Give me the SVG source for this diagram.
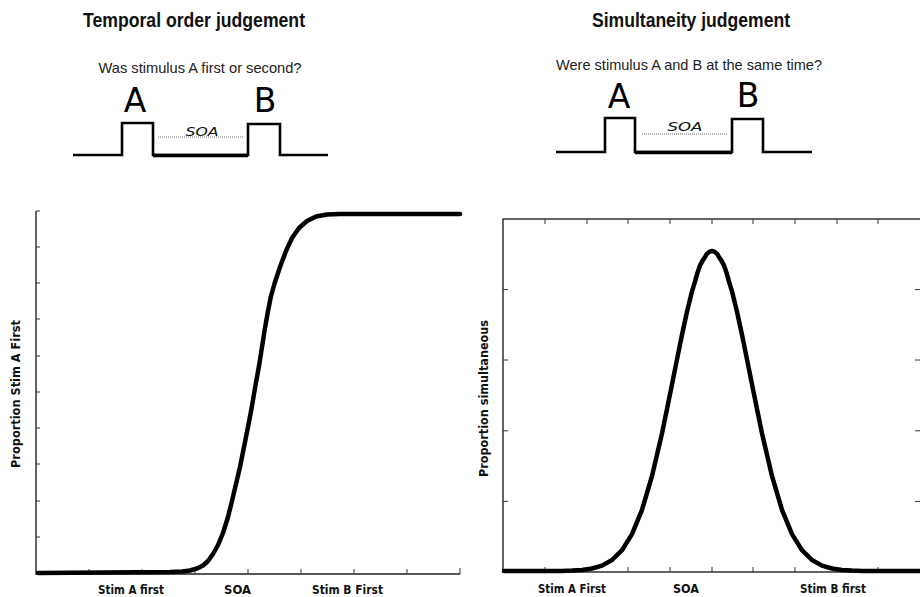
<svg xmlns="http://www.w3.org/2000/svg" width="920" height="597" viewBox="0 0 920 597">
<style>
.title{font-family:"Liberation Sans Narrow","Liberation Sans",Arial,sans-serif;font-weight:bold;font-size:20px;fill:#111}
.q{font-family:"Liberation Sans Narrow","Liberation Sans",Arial,sans-serif;font-size:15px;fill:#222}
.big{font-family:"DejaVu Sans",Verdana,sans-serif;font-size:33px;fill:#000}
.soa{font-family:"DejaVu Sans",Verdana,sans-serif;font-style:italic;font-size:13px;fill:#111}
.ax{font-family:"DejaVu Sans",Verdana,sans-serif;font-weight:bold;font-size:12px;fill:#111}
.pulse{fill:none;stroke:#000;stroke-width:2.6;stroke-linejoin:miter}
.mid{fill:none;stroke:#000;stroke-width:3.6}
.dots{fill:none;stroke:#666;stroke-width:1;stroke-dasharray:1 1}
.axis{fill:none;stroke:#222;stroke-width:1.4}
.tick{fill:none;stroke:#333;stroke-width:1}
.curve{fill:none;stroke:#000;stroke-width:4.5;stroke-linejoin:round;stroke-linecap:round}
</style>

<g id="toj-header">
<text class="title" x="194" y="27" text-anchor="middle" textLength="222" lengthAdjust="spacingAndGlyphs">Temporal order judgement</text>
<text class="q" x="200" y="73" text-anchor="middle" textLength="203" lengthAdjust="spacingAndGlyphs">Was stimulus A first or second?</text>
<text class="big" x="135" y="112" text-anchor="middle">A</text>
<text class="big" x="265" y="112" text-anchor="middle">B</text>
<path class="pulse" d="M73,155 H122 V123 H153 V155 H248 V124 H280 V155 H328"/>
<path class="mid" d="M153,155.5 H248"/>
<path class="dots" d="M158,137 H243"/>
<text class="soa" x="202" y="136" text-anchor="middle" textLength="33" lengthAdjust="spacingAndGlyphs">SOA</text>
</g>

<g id="sj-header">
<text class="title" x="691" y="27" text-anchor="middle" textLength="198" lengthAdjust="spacingAndGlyphs">Simultaneity judgement</text>
<text class="q" x="689" y="70" text-anchor="middle" textLength="266" lengthAdjust="spacingAndGlyphs">Were stimulus A and B at the same time?</text>
<text class="big" x="619" y="108" text-anchor="middle">A</text>
<text class="big" x="748" y="107" text-anchor="middle">B</text>
<path class="pulse" d="M556,152 H605 V118 H635 V152 H732 V119 H763 V152 H812"/>
<path class="mid" d="M635,152.5 H732"/>
<path class="dots" d="M642,134 H727"/>
<text class="soa" x="685" y="131" text-anchor="middle" textLength="35" lengthAdjust="spacingAndGlyphs">SOA</text>
</g>

<g id="toj-plot">
<path class="axis" d="M36,211 V574 H460"/>
<path class="tick" d="M36,211 h4 M36,247 h4 M36,283 h4 M36,319 h4 M36,356 h4 M36,392 h4 M36,428 h4 M36,464 h4 M36,501 h4 M36,537 h4"/>
<path class="tick" d="M89,574 v-5 M142,574 v-5 M195,574 v-5 M248,574 v-5 M301,574 v-5 M354,574 v-5 M407,574 v-5 M460,574 v-6"/>
<path class="curve" d="M38,573 L170,572 L182,571.5 L190,570.5 L197,568.5 L203,565.5 L208,561 L213,554 L218,545 L223,533 L228,517 L232,501 L236,484 L240,467 L244,447 L248,427 L252,406 L255,388 L259,366 L262,347 L265,328 L268,311 L271,296 L275,282 L280,267 L286,251 L292,238 L299,228 L307,221 L316,216.5 L327,214.5 L340,214 L460,214"/>
<text class="ax" transform="translate(20,394) rotate(-90)" text-anchor="middle" textLength="148" lengthAdjust="spacingAndGlyphs">Proportion Stim A First</text>
<text class="ax" x="131" y="594" text-anchor="middle" textLength="66" lengthAdjust="spacingAndGlyphs">Stim A first</text>
<text class="ax" x="237.5" y="594" text-anchor="middle" textLength="27" lengthAdjust="spacingAndGlyphs">SOA</text>
<text class="ax" x="347.5" y="594" text-anchor="middle" textLength="71" lengthAdjust="spacingAndGlyphs">Stim B First</text>
</g>

<g id="sj-plot">
<rect class="axis" x="503" y="219" width="420" height="353"/>
<path class="tick" d="M545,219 v5 M587,219 v5 M628,219 v5 M670,219 v5 M712,219 v5 M753,219 v5 M795,219 v5 M837,219 v5 M878,219 v5"/>
<path class="tick" d="M545,572 v-5 M587,572 v-5 M628,572 v-5 M670,572 v-5 M712,572 v-5 M753,572 v-5 M795,572 v-5 M837,572 v-5 M878,572 v-5"/>
<path class="tick" d="M503,289.6 h5 M503,360 h5 M503,430.8 h5 M503,501.4 h5"/>
<path class="tick" d="M920,289.6 h-5 M920,360 h-5 M920,430.8 h-5 M920,501.4 h-5"/>
<path class="curve" d="M504,571 L562,571 L572,570.6 L582,569.9 L592,568.5 L602,565.6 L612,560 L622,550.2 L632,534.1 L642,509.8 L652,476 L662,433.4 L667,409 L672,384.4 L677,359.4 L682,334.8 L687,311.8 L692,291.3 L695,281.7 L697,274.4 L699,268.2 L700,265.5 L702,261.6 L705,257 L707,253.7 L709,252 L711,251.2 L712,251 L713,251.2 L715,252 L717,253.7 L719,257 L722,261.6 L724,265.5 L725,268.2 L727,274.4 L729,281.7 L732,291.3 L737,311.8 L742,334.8 L747,359.4 L752,384.4 L757,409 L762,433.4 L772,476 L782,509.8 L792,534.1 L802,550.2 L812,560 L822,565.6 L832,568.5 L842,569.9 L852,570.6 L862,571 L920,571"/>
<text class="ax" transform="translate(488,398.5) rotate(-90)" text-anchor="middle" textLength="157" lengthAdjust="spacingAndGlyphs">Proportion simultaneous</text>
<text class="ax" x="572" y="593" text-anchor="middle" textLength="68" lengthAdjust="spacingAndGlyphs">Stim A First</text>
<text class="ax" x="686" y="593" text-anchor="middle" textLength="26" lengthAdjust="spacingAndGlyphs">SOA</text>
<text class="ax" x="833" y="593" text-anchor="middle" textLength="66" lengthAdjust="spacingAndGlyphs">Stim B first</text>
</g>
</svg>
